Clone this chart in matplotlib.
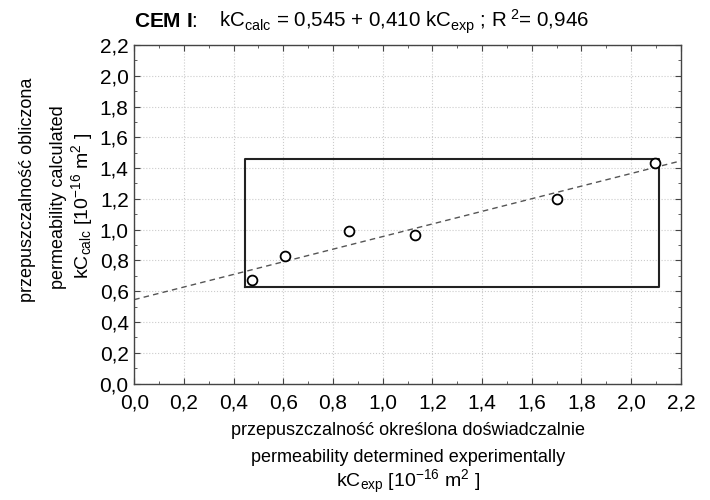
import matplotlib
matplotlib.use("Agg")
import matplotlib.pyplot as plt
from matplotlib.ticker import FuncFormatter, MultipleLocator

plt.rcParams['font.family'] = ['Liberation Sans', 'DejaVu Sans']
plt.rcParams['mathtext.fontset'] = 'custom'
plt.rcParams['mathtext.rm'] = 'Liberation Sans'
plt.rcParams['mathtext.it'] = 'Liberation Sans:italic'
plt.rcParams['mathtext.bf'] = 'Liberation Sans:bold'

# measured vs calculated permeability (CEM I)
kc_exp = [0.475, 0.606, 0.865, 1.130, 1.703, 2.094]
kc_calc = [0.670, 0.827, 0.990, 0.963, 1.198, 1.432]
intercept = 0.545
slope = 0.410
box_x = [0.444, 2.110]
box_y = [0.627, 1.458]

xlab = ['przepuszczalność określona doświadczalnie',
        'permeability determined experimentally',
        r'kC$_{\mathrm{exp}}$ [10$^{-16}$ m$^{2}$ ]']
ylab = ['przepuszczalność obliczona',
        'permeability calculated',
        r'kC$_{\mathrm{calc}}$ [10$^{-16}$ m$^{2}$ ]']

fig = plt.figure(figsize=(7.1, 5.0), dpi=100)
ax = fig.add_axes([0.189, 0.233, 0.770, 0.677])

xs = [0.0, 2.2]
ax.plot(xs, [intercept + slope * v for v in xs], ls=(0, (4, 3)), color='#555555', lw=1.0)
ax.scatter(kc_exp, kc_calc, s=50, facecolors='white', edgecolors='black', linewidths=1.3, zorder=3)
ax.plot([box_x[0], box_x[1], box_x[1], box_x[0], box_x[0]],
        [box_y[0], box_y[0], box_y[1], box_y[1], box_y[0]], color='#222222', lw=1.5)

ax.set_xlim(0, 2.2)
ax.set_ylim(0, 2.2)
ax.xaxis.set_major_locator(MultipleLocator(0.2))
ax.yaxis.set_major_locator(MultipleLocator(0.2))
ax.xaxis.set_minor_locator(MultipleLocator(0.1))
ax.yaxis.set_minor_locator(MultipleLocator(0.1))
comma = FuncFormatter(lambda v, p: ('%.1f' % v).replace('.', ','))
ax.xaxis.set_major_formatter(comma)
ax.yaxis.set_major_formatter(comma)
ax.tick_params(which='both', direction='in', top=True, right=True, labelsize=15, color='#444444')
ax.tick_params(which='major', length=4)
ax.tick_params(which='minor', length=2)
ax.tick_params(axis='x', pad=7)
ax.tick_params(axis='y', pad=4)
ax.grid(True, which='major', color='#cccccc', ls=':', lw=0.8)
for s in ax.spines.values():
    s.set_color('#444444')
    s.set_linewidth(1.0)

# axis titles, one text per line
for txt, yb, fs in zip(xlab, [435, 462, 487], [13, 13, 14]):
    fig.text(408 / 710, 1 - yb / 500, txt, fontsize=fs, ha='center', va='baseline')
for txt, xb, yc, fs in zip(ylab, [32, 63, 88], [190, 197, 206], [13, 13, 14]):
    fig.text(xb / 710, 1 - yc / 500, txt, fontsize=fs, rotation=90,
             rotation_mode='anchor', ha='center', va='baseline')

fig.text(134 / 710, 1 - 27 / 500, r'$\mathbf{CEM\ I}$:', fontsize=15, va='baseline')
fig.text(219 / 710, 1 - 27 / 500,
         r'kC$_{\mathrm{calc}}$ = 0,545 + 0,410 kC$_{\mathrm{exp}}$ ; R$^{\ 2}$= 0,946',
         fontsize=14.8, va='baseline')

fig.savefig('out.png', dpi=100)
